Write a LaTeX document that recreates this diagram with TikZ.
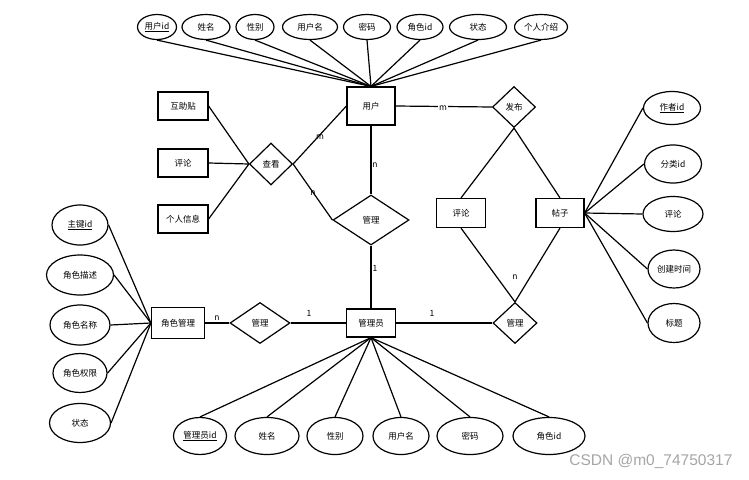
\documentclass[tikz,border=0pt]{standalone}
\usepackage{fontspec}
\newfontfamily\cjk{Noto Sans CJK SC}
\usetikzlibrary{shapes.geometric}
\tikzset{
  every node/.style={font=\cjk\fontsize{8.5}{10}\selectfont},
  ent/.style={draw, line width=1.2pt, rectangle, inner sep=0pt},
  rel/.style={draw, line width=1.2pt, diamond, inner sep=0pt},
  attr/.style={draw, line width=1.2pt, ellipse, inner sep=0pt},
  lk/.style={line width=1.2pt},
  card/.style={font=\cjk\fontsize{8.5}{10}\selectfont, inner sep=1pt}
}
\begin{document}
\begin{tikzpicture}[x=1pt,y=-1pt]
\path[use as bounding box, fill=white] (0,0) rectangle (749,479);
% entities
\node[ent, minimum width=48pt, minimum height=38pt] (user) at (371,106) {用户};
\node[ent, minimum width=49pt, minimum height=28pt] (admin) at (371,323) {管理员};
\node[ent, minimum width=53pt, minimum height=31pt] (role) at (178,323) {角色管理};
\node[ent, minimum width=50pt, minimum height=28pt] (hzt) at (183,106) {互助贴};
\node[ent, minimum width=50pt, minimum height=28pt] (pl1) at (183,163) {评论};
\node[ent, minimum width=50pt, minimum height=28pt] (grxx) at (183,219) {个人信息};
\node[ent, minimum width=49pt, minimum height=29pt] (pl2) at (461,213) {评论};
\node[ent, minimum width=48pt, minimum height=29pt] (post) at (560,213) {帖子};
% relationships
\node[rel, minimum width=43pt, minimum height=42pt] (ck) at (271,164) {查看};
\node[rel, minimum width=76pt, minimum height=50pt] (gl1) at (371,220) {管理};
\node[rel, minimum width=60pt, minimum height=41pt] (gl2) at (260,323) {管理};
\node[rel, minimum width=44pt, minimum height=41pt] (gl3) at (515,323) {管理};
\node[rel, minimum width=43pt, minimum height=41pt] (fb) at (514,107) {发布};
% user attributes
\node[attr, minimum width=39pt, minimum height=25pt] (u1) at (157,27) {\underline{用户id}};
\node[attr, minimum width=48pt, minimum height=25pt] (u2) at (206,27) {姓名};
\node[attr, minimum width=38pt, minimum height=25pt] (u3) at (255,27) {性别};
\node[attr, minimum width=55pt, minimum height=25pt] (u4) at (310,27) {用户名};
\node[attr, minimum width=47pt, minimum height=25pt] (u5) at (367,27) {密码};
\node[attr, minimum width=46pt, minimum height=25pt] (u6) at (420,27) {角色id};
\node[attr, minimum width=57pt, minimum height=25pt] (u7) at (478,27) {状态};
\node[attr, minimum width=53pt, minimum height=25pt] (u8) at (541,27) {个人介绍};
% post attributes
\node[attr, minimum width=57pt, minimum height=33pt] (p1) at (672,108) {\underline{作者id}};
\node[attr, minimum width=57pt, minimum height=38pt] (p2) at (673,164) {分类id};
\node[attr, minimum width=60pt, minimum height=35pt] (p3) at (673,214) {评论};
\node[attr, minimum width=52pt, minimum height=38pt] (p4) at (674,269) {创建时间};
\node[attr, minimum width=52pt, minimum height=39pt] (p5) at (674,323) {标题};
% role attributes
\node[attr, minimum width=56pt, minimum height=40pt] (r1) at (80,225) {\underline{主键id}};
\node[attr, minimum width=67pt, minimum height=40pt] (r2) at (80,275) {角色描述};
\node[attr, minimum width=60pt, minimum height=40pt] (r3) at (80,325) {角色名称};
\node[attr, minimum width=54pt, minimum height=39pt] (r4) at (80,373) {角色权限};
\node[attr, minimum width=61pt, minimum height=39pt] (r5) at (80,423) {状态};
% admin attributes
\node[attr, minimum width=53pt, minimum height=37pt] (a1) at (200,436) {\underline{管理员id}};
\node[attr, minimum width=64pt, minimum height=37pt] (a2) at (267,436) {姓名};
\node[attr, minimum width=56pt, minimum height=37pt] (a3) at (335,436) {性别};
\node[attr, minimum width=56pt, minimum height=37pt] (a4) at (401,436) {用户名};
\node[attr, minimum width=66pt, minimum height=37pt] (a5) at (470,436) {密码};
\node[attr, minimum width=72pt, minimum height=37pt] (a6) at (549,436) {角色id};
% attribute links
\foreach \a in {u1,u2,u3,u4,u5,u6,u7,u8} \draw[lk] (\a.south) -- (user.north);
\foreach \a in {p1,p2,p3,p4,p5} \draw[lk] (\a.west) -- (post.east);
\foreach \a in {r1,r2,r3,r4,r5} \draw[lk] (\a.east) -- (role.west);
\foreach \a in {a1,a2,a3,a4,a5,a6} \draw[lk] (\a.north) -- (admin.south);
% relationship links
\draw[lk] (hzt.east) -- (ck.west);
\draw[lk] (pl1.east) -- (ck.west);
\draw[lk] (grxx.east) -- (ck.west);
\draw[lk] (ck.east) -- (user.west);
\draw[lk] (ck.east) -- (gl1.west);
\draw[lk] (user.south) -- (gl1.north);
\draw[lk] (gl1.south) -- (admin.north);
\draw[lk] (role.east) -- (gl2.west);
\draw[lk] (gl2.east) -- (admin.west);
\draw[lk] (admin.east) -- (gl3.west);
\draw[lk] (user.east) -- (fb.west);
\draw[lk] (fb.south) -- (pl2.north);
\draw[lk] (fb.south) -- (post.north);
\draw[lk] (pl2.south) -- (gl3.north);
\draw[lk] (post.south) -- (gl3.north);
% cardinalities
\node[card] (c1) at (320,137) {m};
\node[card] (c2) at (313,193) {n};
\node[card] (c3) at (375,165) {n};
\node[card] (c4) at (375,268) {1};
\node[card] (c5) at (217,318) {n};
\node[card] (c6) at (309,313) {1};
\node[card] (c7) at (432,313) {1};
\node[card] (c8) at (515,277) {n};
\node[card, fill=white] (c9) at (443,108) {m};
% watermark
\node[font=\fontspec{Liberation Sans}\fontsize{15.5}{18}\selectfont, text=gray!70, anchor=east] (wm) at (736,461) {CSDN @m0\_74750317};
\end{tikzpicture}
\end{document}
